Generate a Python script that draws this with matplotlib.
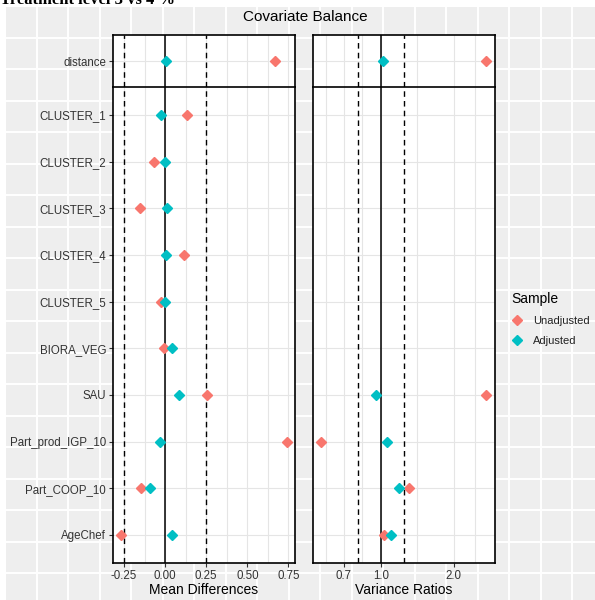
import numpy as np
import matplotlib
matplotlib.use("Agg")
import matplotlib.pyplot as plt
from matplotlib.lines import Line2D

plt.rcParams['font.family'] = ['Liberation Sans', 'DejaVu Sans']

# data
covariates = ["CLUSTER_1", "CLUSTER_2", "CLUSTER_3", "CLUSTER_4", "CLUSTER_5",
              "BIORA_VEG", "SAU", "Part_prod_IGP_10", "Part_COOP_10", "AgeChef"]
mean_unadj = [0.136, -0.07, -0.155, 0.112, -0.028, -0.004, 0.256, 0.74, -0.148, -0.27]
mean_adj = [-0.024, 0.0, 0.014, 0.004, 0.0, 0.04, 0.084, -0.032, -0.093, 0.043]
nan = np.nan
vr_unadj = [nan, nan, nan, nan, nan, nan, 2.72, 0.565, 1.31, 1.03]
vr_adj = [nan, nan, nan, nan, nan, nan, 0.95, 1.06, 1.19, 1.10]

dist_label = "distance"
dist_mean = {"Unadjusted": 0.67, "Adjusted": 0.006}
dist_vr = {"Unadjusted": 2.72, "Adjusted": 1.02}

mean_ticks = [-0.25, 0.0, 0.25, 0.50, 0.75]
mean_tick_labels = ["-0.25", "0.00", "0.25", "0.50", "0.75"]
mean_minor = [-0.125, 0.125, 0.375, 0.625]
vr_ticks = [0.7, 1.0, 2.0]
vr_tick_labels = ["0.7", "1.0", "2.0"]
vr_minor = [0.592, 0.837, 1.414, 2.449]

mean_thresh = [-0.25, 0.25]
vr_thresh = [0.8, 1.25]

c_unadj = "#F8766D"
c_adj = "#00BFC4"

W, H = 595, 600
fig = plt.figure(figsize=(W / 100, H / 100), dpi=100)
fig.patch.set_facecolor("white")


def rect(x0, y0, x1, y1):
    return [x0 / W, 1 - y1 / H, (x1 - x0) / W, (y1 - y0) / H]


# grey background with white grid (leftover panel behind the plot)
bg = fig.add_axes(rect(6, 7, W, H))
bg.set_facecolor("#EEEEEE")
bg.set_xlim(6, W)
bg.set_ylim(H, 7)
for k in range(1, 20):
    bg.axvline(5 + 31.5 * k, color="white", lw=1.4)
    bg.axhline(6 + 31.5 * k, color="white", lw=1.4)
bg.set_xticks([])
bg.set_yticks([])
for s in bg.spines.values():
    s.set_visible(False)

# cut-off heading at the very top
fig.text(0.0, 1 - 4 / H, "Treatment level 3 vs 4 %", fontsize=12, fontweight="bold",
         family=["Liberation Serif", "DejaVu Serif"], va="baseline", ha="left")
fig.text(305 / W, 1 - 17 / H, "Covariate Balance", fontsize=11, ha="center", va="center")

top, mid, bot = 35, 87, 563
panels = [(113, 295), (313, 495)]

y = np.arange(len(covariates))


def style(ax):
    ax.set_facecolor("white")
    for s in ax.spines.values():
        s.set_linewidth(1.2)
        s.set_color("black")
    ax.tick_params(axis="both", colors="#333333", labelcolor="#333333",
                   labelsize=8.3, length=3, width=0.8, pad=2)
    ax.tick_params(axis="x", which="minor", length=0)
    ax.set_axisbelow(True)


for j, (x0, x1) in enumerate(panels):
    ax_d = fig.add_axes(rect(x0, top, x1, mid))
    ax_m = fig.add_axes(rect(x0, mid, x1, bot), sharex=ax_d)

    if j == 0:
        xs_u, xs_a = mean_unadj, mean_adj
        d_u, d_a = dist_mean["Unadjusted"], dist_mean["Adjusted"]
        ticks, labels, minor, thresh, center = mean_ticks, mean_tick_labels, mean_minor, mean_thresh, 0.0
        ax_m.set_xlim(-0.317, 0.79)
        xlabel = "Mean Differences"
    else:
        xs_u, xs_a = vr_unadj, vr_adj
        d_u, d_a = dist_vr["Unadjusted"], dist_vr["Adjusted"]
        ticks, labels, minor, thresh, center = vr_ticks, vr_tick_labels, vr_minor, vr_thresh, 1.0
        ax_m.set_xscale("log")
        ax_m.set_xlim(0.523, 2.96)
        xlabel = "Variance Ratios"

    for ax in (ax_d, ax_m):
        style(ax)
        for v in ticks + minor:
            ax.axvline(v, color="#E5E5E5", lw=0.8, zorder=0)
        ax.axvline(center, color="black", lw=1.1, zorder=1)
        for t in thresh:
            ax.axvline(t, color="black", lw=1.0, ls=(0, (4, 3)), zorder=1)

    # distance facet
    ax_d.axhline(0, color="#E5E5E5", lw=0.8, zorder=0)
    ax_d.plot([d_u], [0], "D", color=c_unadj, ms=5.5, zorder=3)
    ax_d.plot([d_a], [0], "D", color=c_adj, ms=5.5, zorder=4)
    ax_d.set_ylim(0.55, -0.55)
    ax_d.tick_params(axis="x", bottom=False, labelbottom=False)

    # covariates facet
    for yi in y:
        ax_m.axhline(yi, color="#E5E5E5", lw=0.8, zorder=0)
    ax_m.plot(xs_u, y, "D", color=c_unadj, ms=5.5, ls="none", zorder=3)
    ax_m.plot(xs_a, y, "D", color=c_adj, ms=5.5, ls="none", zorder=4)
    ax_m.set_ylim(len(covariates) - 1 + 0.6, -0.6)

    ax_m.set_xticks(ticks)
    ax_m.set_xticklabels(labels)
    ax_m.xaxis.set_minor_locator(matplotlib.ticker.NullLocator())
    ax_m.set_xlabel(xlabel, fontsize=10, labelpad=1)

    if j == 0:
        ax_d.set_yticks([0])
        ax_d.set_yticklabels([dist_label])
        ax_m.set_yticks(y)
        ax_m.set_yticklabels(covariates)
    else:
        ax_d.set_yticks([])
        ax_m.set_yticks([])
    ax_d.spines["bottom"].set_visible(False)

# legend
handles = [Line2D([], [], marker="D", color=c_unadj, ls="none", ms=5.5),
           Line2D([], [], marker="D", color=c_adj, ls="none", ms=5.5)]
leg = fig.legend(handles, ["Unadjusted", "Adjusted"], title="Sample",
                 loc="upper left", bbox_to_anchor=(501 / W, 1 - 282 / H),
                 frameon=False, fontsize=8, title_fontsize=10,
                 handlelength=1.0, handletextpad=1.0, labelspacing=0.9,
                 alignment="left")
for t in leg.get_texts():
    t.set_color("#222222")

fig.savefig("out.png", dpi=100)
